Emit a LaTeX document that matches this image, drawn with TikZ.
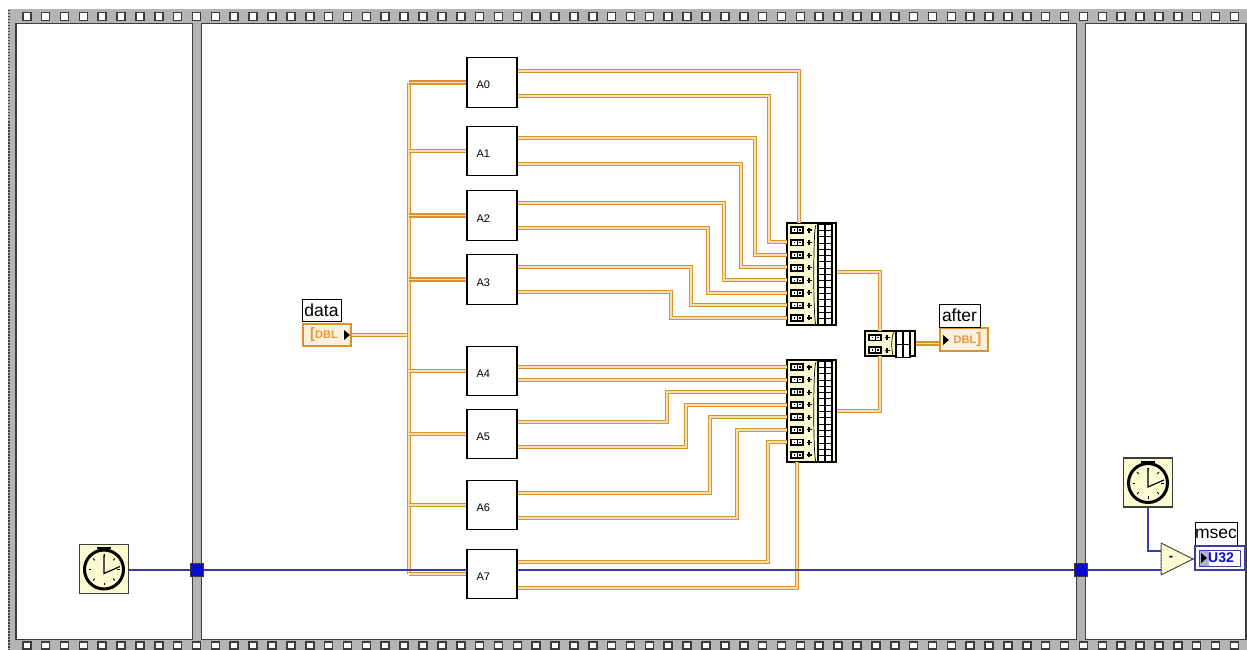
\documentclass[tikz,border=0pt]{standalone}
\usepackage{fontspec}
\setmainfont{Liberation Sans}
\usetikzlibrary{calc}

\definecolor{marcogris}{HTML}{B4B4B4}
\definecolor{bordeoscuro}{HTML}{3C3C3C}
\definecolor{naranja}{HTML}{D8942C}
\definecolor{naranjaclaro}{HTML}{F4DDB0}
\definecolor{naranjafondo}{HTML}{FBF0DC}
\definecolor{naranjatexto}{HTML}{E8963C}
\definecolor{azulcable}{HTML}{3A3AA8}
\definecolor{azultunel}{HTML}{0A0AD0}
\definecolor{crema}{HTML}{FBFBD2}

% Filas de un array: x izquierda, y superior, filas, celdas
\newcommand{\filasarray}[4]{%
    \foreach \k in {1,...,#3} {
        \pgfmathsetmacro{\yk}{#2+7+(\k-1)*12.57}
        \fill[black] (#1+3,\yk-3.8) rectangle (#1+17,\yk+3.8);
        \fill[white] (#1+5,\yk-2) rectangle (#1+9.5,\yk+2);
        \fill[white] (#1+10.5,\yk-2) rectangle (#1+15,\yk+2);
        \fill[black] (#1+6.5,\yk-0.7) rectangle (#1+8,\yk+0.7);
        \fill[black] (#1+12,\yk-0.7) rectangle (#1+13.5,\yk+0.7);
        \draw[black,line width=1.1pt] (#1+19.5,\yk) -- (#1+24.5,\yk) (#1+22,\yk-2.5) -- (#1+22,\yk+2.5);
    }
    \pgfmathsetmacro{\altoa}{(#3-1)*12.57+13}
    \pgfmathsetmacro{\pasoa}{\altoa/#4}
    \draw[black,line width=0.7pt] (#1+29,#2+2) .. controls (#1+26,#2+4) and (#1+26,#2+\altoa-2) .. (#1+29,#2+\altoa+1);
    \draw[black,line width=1.1pt,fill=white] (#1+31,#2+1) rectangle (#1+45,#2+\altoa+1);
    \draw[black,line width=1.1pt] (#1+38,#2+1) -- (#1+38,#2+\altoa+1);
    \foreach \k in {1,...,#4} {
        \ifnum\k<#4
            \draw[black,line width=0.8pt] (#1+31,#2+1+\k*\pasoa) -- (#1+45,#2+1+\k*\pasoa);
        \fi
    }
}

% Reloj: nombre, x, y
\newcommand{\reloj}[3]{%
    \node[relojbox] (#1) at (#2,#3) {};
    \begin{scope}[shift={(#2,#3+0.5)}]
        \fill[black] (-7,-22.5) rectangle (7,-20.5);
        \fill[black] (-2,-21) rectangle (2,-18);
        \draw[black,line width=3pt,fill=crema] (0,0) circle (19.5);
        \foreach \ang in {0,45,...,315} {
            \draw[black,line width=1pt] (\ang:13) -- (\ang:15.5);
        }
        \draw[black,line width=1.2pt] (0,-15) -- (0,4) -- (16,-3);
    \end{scope}
}

\begin{document}
\begin{tikzpicture}[
        x=1pt,y=-1pt,
        bloque/.style={
            rectangle,
            draw=black,
            fill=white,
            line width=1.2pt,
            minimum height=49.5pt,
            text width=31pt,
            text height=13pt,
            text depth=0pt,
            inner xsep=9.5pt,
            inner ysep=0pt,
            align=left,
            font=\fontsize{11}{11}\selectfont
        },
        arreglo/.style={
            rectangle,
            draw=black,
            fill=crema,
            line width=1.3pt,
            inner sep=0pt
        },
        etiqueta/.style={
            rectangle,
            draw=black,
            fill=white,
            line width=0.9pt,
            inner sep=0pt,
            font=\fontsize{17.5}{17.5}\selectfont
        },
        indicador/.style={
            rectangle,
            draw=naranja,
            fill=naranjafondo,
            line width=2.4pt,
            inner sep=0pt,
            text=naranjatexto,
            font=\bfseries\fontsize{11}{11}\selectfont
        },
        relojbox/.style={
            rectangle,
            draw=bordeoscuro,
            fill=crema,
            line width=1.1pt,
            minimum size=49pt,
            inner sep=0pt
        },
        tunel/.style={
            rectangle,
            draw=bordeoscuro,
            fill=azultunel,
            line width=0.6pt,
            minimum size=13pt,
            inner sep=0pt
        },
        cable/.style={
            draw=naranja,
            double=naranjaclaro,
            double distance=1.2pt,
            line width=1.5pt
        },
        cableazul/.style={
            draw=azulcable,
            line width=1.3pt
        }
    ]
    \useasboundingbox (0,0) rectangle (1247,650);

    % Marco
    \fill[marcogris] (8,9) rectangle (1247,650);
    \draw[bordeoscuro,line width=1.5pt,dash pattern=on 1.5pt off 1.5pt] (9,10) -- (9,650);
    \draw[bordeoscuro,line width=1.2pt,fill=white] (16,23.5) rectangle (192.5,639.5);
    \draw[bordeoscuro,line width=1.2pt,fill=white] (201.5,23.5) rectangle (1076.5,639.5);
    \draw[bordeoscuro,line width=1.2pt,fill=white] (1085.5,23.5) rectangle (1246,639.5);
    \foreach \i in {0,...,64} {
        \draw[bordeoscuro,line width=1.6pt,fill=white] (22.7+\i*18.87,12.5) rectangle ++(8,8);
        \draw[bordeoscuro,line width=1.6pt,fill=white] (22.7+\i*18.87,642) rectangle ++(8,7);
    }

    % Puntos de entrada de los arrays
    \foreach \i/\y in {2/242,3/255,4/267,5/280,6/293,7/305,8/318} {
        \coordinate (ui\i) at (787,\y);
    }
    \foreach \i/\y in {1/367,2/380,3/392,4/405,5/417,6/430,7/442} {
        \coordinate (li\i) at (787,\y);
    }

    % Salidas de los bloques
    \coordinate (a0s1) at (517,71);
    \coordinate (a0s2) at (517,96);
    \coordinate (a1s1) at (517,138);
    \coordinate (a1s2) at (517,164);
    \coordinate (a2s1) at (517,203);
    \coordinate (a2s2) at (517,228);
    \coordinate (a3s1) at (517,267);
    \coordinate (a3s2) at (517,292);
    \coordinate (a4s1) at (517,367);
    \coordinate (a4s2) at (517,380);
    \coordinate (a5s1) at (517,422);
    \coordinate (a5s2) at (517,447);
    \coordinate (a6s1) at (517,493);
    \coordinate (a6s2) at (517,518);
    \coordinate (a7s1) at (517,562);
    \coordinate (a7s2) at (517,588);
    \coordinate (bus) at (409,335);
    \coordinate (cruce) at (1161,570);
    \coordinate (restapunta) at (1193,559);

    % Arrays
    \node[arreglo,minimum width=49pt,minimum height=102pt] (arrsup) at (811.5,274) {};
    \node[arreglo,minimum width=49pt,minimum height=102pt] (arrinf) at (811.5,411) {};
    \node[arreglo,minimum width=50pt,minimum height=25pt] (arrfin) at (890,343.5) {};

    % Indicadores
    \node[indicador,minimum width=48pt,minimum height=22pt] (datos) at (327,335) {\hspace*{-6pt}{\fontsize{15}{15}\selectfont[}DBL};
    \node[indicador,minimum width=48pt,minimum height=23pt] (despues) at (964,339.5) {\hspace*{7pt}DBL{\fontsize{15}{15}\selectfont]}};
    \node[etiqueta,minimum width=39pt,minimum height=22pt] (datoslbl) at (321.5,310) {data};
    \node[etiqueta,minimum width=41pt,minimum height=23pt] (despueslbl) at (959.5,315.5) {after};

    % Cables del bus
    \draw[cable] (datos) -- (bus);
    \draw[cable] (bus |- 0,83) -- (bus |- 0,574);

    % Cables hacia los arrays
    \draw[cable] (a0s1) -- (799,71) -- (799,223);
    \draw[cable] (a0s2) -- (769,96) |- (ui2);
    \draw[cable] (a1s1) -- (755,138) |- (ui3);
    \draw[cable] (a1s2) -- (741,164) |- (ui4);
    \draw[cable] (a2s1) -- (724,203) |- (ui5);
    \draw[cable] (a2s2) -- (708,228) |- (ui6);
    \draw[cable] (a3s1) -- (691,267) |- (ui7);
    \draw[cable] (a3s2) -- (671,292) |- (ui8);
    \draw[cable] (a4s1) -- (li1);
    \draw[cable] (a4s2) -- (li2);
    \draw[cable] (a5s1) -- (667,422) |- (li3);
    \draw[cable] (a5s2) -- (686,447) |- (li4);
    \draw[cable] (a6s1) -- (710,493) |- (li5);
    \draw[cable] (a6s2) -- (737,518) |- (li6);
    \draw[cable] (a7s1) -- (768,562) |- (li7);
    \draw[cable] (a7s2) -- (797,588) -- (797,462);

    % Cables de salida
    \draw[cable] (arrsup.east |- 0,272) -- (880,272) -- (880,331);
    \draw[cable] (arrinf.east |- 0,411) -- (880,411) -- (880,356);
    \draw[cable] (arrfin) -- (arrfin -| despues.west);

    % Bloques
    \reloj{relojuno}{104}{569}
    \draw[cableazul] (relojuno.east |- cruce) -- (cruce);
    \node[bloque] (a0) at (492,82.5) {A0};
    \node[bloque] (a1) at (492,151) {A1};
    \node[bloque] (a2) at (492,215.5) {A2};
    \node[bloque] (a3) at (492,279.5) {A3};
    \node[bloque] (a4) at (492,371) {A4};
    \node[bloque] (a5) at (492,434) {A5};
    \node[bloque] (a6) at (492,505) {A6};
    \node[bloque] (a7) at (492,574) {A7};
    \draw[cable] (bus |- a0) -- (a0);
    \draw[cable] (bus |- a1) -- (a1);
    \draw[cable] (bus |- a2) -- (a2);
    \draw[cable] (bus |- a3) -- (a3);
    \draw[cable] (bus |- a4) -- (a4);
    \draw[cable] (bus |- a5) -- (a5);
    \draw[cable] (bus |- a6) -- (a6);
    \draw[cable] (bus |- a7) -- (a7);
    \draw[cableazul] (bus |- cruce) -- (467,570);

    % Contenido de los arrays
    \filasarray{787}{223}{8}{16}
    \filasarray{787}{360}{8}{16}
    \filasarray{865}{330.5}{2}{2}

    % Flechas de los indicadores
    \fill[black] (344,330) -- (350,335) -- (344,340) -- cycle;
    \fill[black] (943,335) -- (949,340) -- (943,345) -- cycle;

    % Tuneles
    \node[tunel] (tunelizq) at (197,570) {};
    \node[tunel] (tunelder) at (1081,570) {};

    % Resta y salida
    \reloj{relojdos}{1148}{482.5}
    \fill[crema] (1161,543) -- (1193,559) -- (1161,575) -- cycle;
    \draw[bordeoscuro,line width=1pt,dash pattern=on 2.5pt off 0.5pt] (1161,543) -- (1193,559) -- (1161,575) -- cycle;
    \node[inner sep=0pt,font=\bfseries\fontsize{13}{13}\selectfont] (restasigno) at (1171,558.5) {-};
    \draw[cableazul] (relojdos) |- (1161,551);
    \node[etiqueta,minimum width=42pt,minimum height=23pt] (mseclbl) at (1216,534) {msec};
    \node[rectangle,draw=azulcable,fill=white,line width=1.2pt,minimum width=50pt,minimum height=24pt,inner sep=0pt] (msec) at (1220,558) {};
    \fill[azulcable!40] (1200,550.5) rectangle (1209,565.5);
    \node[rectangle,draw=azulcable,line width=1pt,minimum width=41pt,minimum height=16pt,inner sep=0pt,text=azultunel,font=\bfseries\fontsize{14}{14}\selectfont] (msecvalor) at (1219.5,558) {\hspace*{3pt}U32};
    \fill[black] (1201,553) -- (1207,558) -- (1201,563) -- cycle;
    \draw[cableazul] (restapunta) -- (msec);

\end{tikzpicture}
\end{document}
